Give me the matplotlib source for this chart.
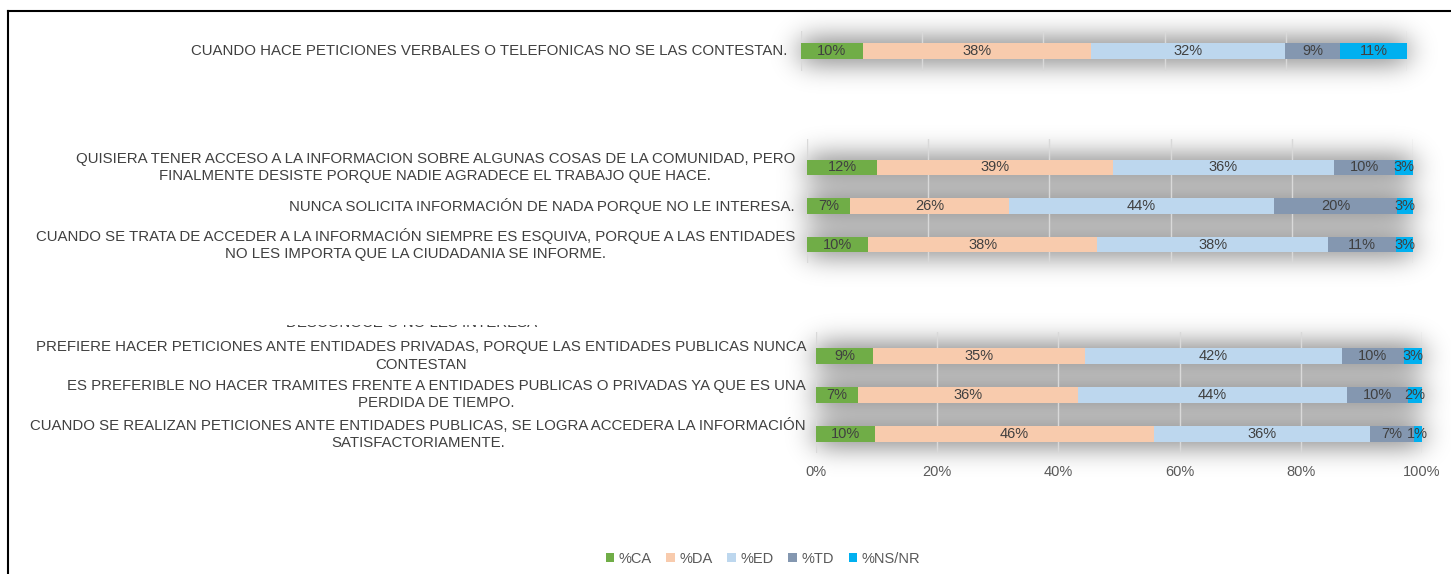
import numpy as np
import matplotlib
matplotlib.use("Agg")
import matplotlib.pyplot as plt
import matplotlib.transforms as mtrans
from matplotlib.patches import Rectangle
from matplotlib.lines import Line2D

plt.rcParams['font.family'] = ['Liberation Sans', 'DejaVu Sans']

series = ["%CA", "%DA", "%ED", "%TD", "%NS/NR"]
colors = ["#70AD47", "#F8CBAD", "#BDD7EE", "#8497B0", "#00B0F0"]
xticks = [0, 20, 40, 60, 80, 100]

g1_labels = ["CUANDO HACE PETICIONES VERBALES O TELEFONICAS NO SE LAS CONTESTAN."]
g1_values = [[10.2, 37.7, 32.0, 9.1, 11.0]]

g2_labels = [
    "QUISIERA TENER ACCESO A LA INFORMACION SOBRE ALGUNAS COSAS DE LA COMUNIDAD, PERO\n"
    "FINALMENTE DESISTE PORQUE NADIE AGRADECE EL TRABAJO QUE HACE.",
    "NUNCA SOLICITA INFORMACIÓN DE NADA PORQUE NO LE INTERESA.",
    "CUANDO SE TRATA DE ACCEDER A LA INFORMACIÓN SIEMPRE ES ESQUIVA, PORQUE A LAS ENTIDADES\n"
    "NO LES IMPORTA QUE LA CIUDADANIA SE INFORME.",
]
g2_values = [[11.6, 38.9, 36.4, 10.1, 3.0],
             [7.1, 26.3, 43.6, 20.4, 2.6],
             [10.1, 37.8, 38.1, 11.2, 2.8]]

g3_labels = [
    "PREFIERE HACER PETICIONES ANTE ENTIDADES PRIVADAS, PORQUE LAS ENTIDADES PUBLICAS NUNCA\n"
    "CONTESTAN",
    "ES PREFERIBLE NO HACER TRAMITES FRENTE A ENTIDADES PUBLICAS O PRIVADAS YA QUE ES UNA\n"
    "PERDIDA DE TIEMPO.",
    "CUANDO SE REALIZAN PETICIONES ANTE ENTIDADES PUBLICAS, SE LOGRA ACCEDERA LA INFORMACIÓN\n"
    "SATISFACTORIAMENTE.",
]
g3_values = [[9.4, 35.0, 42.4, 10.2, 3.0],
             [6.9, 36.4, 44.3, 10.1, 2.3],
             [9.7, 46.1, 35.7, 7.1, 1.4]]
g3_hidden = "DESCONOCE O NO LES INTERESA"

W, H = 1451, 574
fig = plt.figure(figsize=(W / 100, H / 100), dpi=100)
fig.patch.set_facecolor("white")

txt_col = "#404040"
cat_size = 10.8


def px_axes(x0, x1, y0, y1):
    return fig.add_axes([x0 / W, 1 - y1 / H, (x1 - x0) / W, (y1 - y0) / H])


def draw_group(ax, labels, values, ylim, bar_h, label_right, show_x):
    vals = np.array(values)
    n = len(labels)
    ypos = np.arange(n)
    left = np.zeros(n)
    conts = []
    for j, name in enumerate(series):
        c = ax.barh(ypos, vals[:, j], left=left, height=bar_h, color=colors[j],
                    label=name, zorder=2)
        ax.bar_label(c, labels=[f"{v:.0f}%" for v in vals[:, j]], label_type="center",
                     fontsize=10.5, color=txt_col)
        left += vals[:, j]
        conts.append(c)
    ax.set_xlim(0, 100)
    ax.set_ylim(*ylim)
    ax.set_xticks(xticks)
    ax.set_xticklabels([f"{t}%" for t in xticks])
    ax.set_yticks([])
    ax.grid(axis="x", color="#D9D9D9", lw=1, zorder=1)
    ax.set_axisbelow(True)
    ax.set_facecolor("none")
    for s in ax.spines.values():
        s.set_visible(False)
    ax.tick_params(axis="x", length=0, labelsize=10.5, labelcolor="#595959", pad=9,
                   labelbottom=show_x)
    x0 = ax.get_position().x0 * W
    wpx = ax.get_position().width * W
    tr = mtrans.blended_transform_factory(ax.transAxes, ax.transData)
    for i, lab in enumerate(labels):
        ax.text(-(x0 - label_right) / wpx, i, lab, transform=tr, ha="right", va="center",
                multialignment="center", fontsize=cat_size, color=txt_col,
                linespacing=1.28)
    return conts


ax1 = px_axes(801, 1407, 31, 71)
draw_group(ax1, g1_labels, g1_values, (0.5, -0.5), 0.4, 787, False)

ax2 = px_axes(807, 1413, 139, 263)
draw_group(ax2, g2_labels, g2_values, (2.48, -0.74), 0.4, 795, False)

ax3 = px_axes(816, 1422, 332, 453)
conts = draw_group(ax3, g3_labels, g3_values, (2.49, -0.615), 0.41, 806, True)

# label of a category cut off above the third chart
ht = fig.text(412 / W, 1 - 323 / H, g3_hidden, ha="center", va="center",
              fontsize=cat_size, color=txt_col)
ht.set_clip_path(Rectangle((0, 0), 1, 1 - 325 / H, transform=fig.transFigure))

fig.legend(handles=conts, labels=series, loc="center",
           bbox_to_anchor=(763 / W, 1 - 559 / H), ncol=5, frameon=False,
           fontsize=10.5, handlelength=0.6, handleheight=0.6, handletextpad=0.3,
           columnspacing=1.0, labelcolor="#595959")

# frame
fig.add_artist(Line2D([8 / W, 8 / W], [0, 1 - 11 / H], color="black", lw=1.5,
                      transform=fig.transFigure))
fig.add_artist(Line2D([8 / W, 1], [1 - 11 / H, 1 - 11 / H], color="black", lw=1.5,
                      transform=fig.transFigure))

# soft shadow behind the bars
fig.canvas.draw()
mask = np.zeros((H, W))
for ax in (ax1, ax2, ax3):
    for c in ax.containers:
        for p in c.patches:
            bb = p.get_window_extent()
            mask[int(round(bb.y0)):int(round(bb.y1)), int(round(bb.x0)):int(round(bb.x1))] = 1


def blur(a, sigma):
    r = int(3 * sigma)
    k = np.exp(-0.5 * (np.arange(-r, r + 1) / sigma) ** 2)
    k /= k.sum()
    a = np.apply_along_axis(lambda m: np.convolve(m, k, mode="same"), 0, a)
    a = np.apply_along_axis(lambda m: np.convolve(m, k, mode="same"), 1, a)
    return a


sh = blur(mask, 14)
img = np.zeros((H, W, 4))
img[..., 3] = np.clip(0.8 * sh, 0, 1)
fig.figimage(img, origin="lower", zorder=-1)

fig.savefig("out.png", dpi=100)
